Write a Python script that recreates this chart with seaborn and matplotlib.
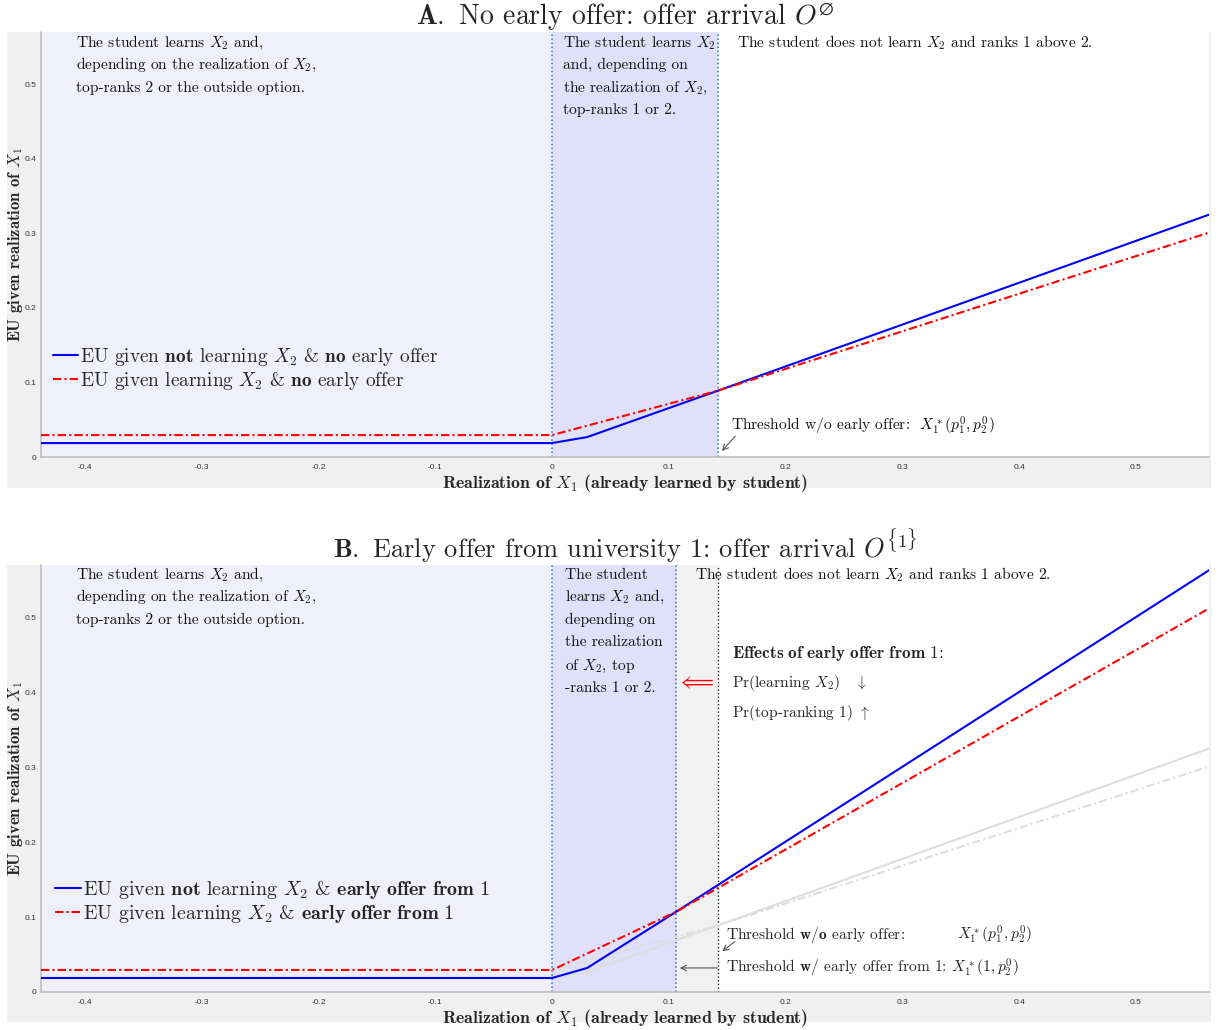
import matplotlib
matplotlib.use("Agg")
import matplotlib.pyplot as plt
from matplotlib.patches import Rectangle
import seaborn as sns

# ---------------- data ----------------
x_min, x_max = -0.4377, 0.5627
y_max = 0.57
thr_no_offer = 0.1422
thr_offer = 0.1062

# Panel A
a_blue_x = [x_min, 0.0, 0.03, 0.1422, x_max]
a_blue_y = [0.0187, 0.0187, 0.0267, 0.089, 0.325]
a_red_x = [x_min, 0.0, 0.1422, x_max]
a_red_y = [0.0294, 0.0294, 0.089, 0.301]

# Panel B
b_blue_x = [x_min, 0.0, 0.03, 0.1062, x_max]
b_blue_y = [0.0187, 0.0187, 0.032, 0.107, 0.563]
b_red_x = [x_min, 0.0, 0.1062, x_max]
b_red_y = [0.0294, 0.0294, 0.107, 0.512]

x_ticks = [-0.4, -0.3, -0.2, -0.1, 0, 0.1, 0.2, 0.3, 0.4, 0.5]
x_ticklabels = ["-0.4", "-0.3", "-0.2", "-0.1", "0", "0.1", "0.2", "0.3", "0.4", "0.5"]
y_ticks = [0, 0.1, 0.2, 0.3, 0.4, 0.5]
y_ticklabels = ["0", "0.1", "0.2", "0.3", "0.4", "0.5"]

left_text = ["The student learns $X_2$ and,",
             "depending on the realization of $X_2$,",
             "top-ranks 2 or the outside option."]
mid_text_a = ["The student learns $X_2$", "and, depending on",
              "the realization of $X_2$,", "top-ranks 1 or 2."]
mid_text_b = ["The student", "learns $X_2$ and,", "depending on",
              "the realization", "of $X_2$, top", "-ranks 1 or 2."]
right_text = "The student does not learn $X_2$ and ranks 1 above 2."

# ---------------- style ----------------
sns.set_style("white")
plt.rcParams["font.family"] = "serif"
plt.rcParams["font.serif"] = ["cmr10"]
plt.rcParams["mathtext.fontset"] = "cm"
plt.rcParams["axes.formatter.use_mathtext"] = True
plt.rcParams["axes.unicode_minus"] = False

BLUE = "#0000FF"
RED = "#FF0000"
GREY_LINE = "#DEDEDE"
VLINE_BLUE = "#1f77c4"
LAV1 = "#F0F0FC"
LAV2 = "#E0E0FA"
GREYBAND = "#F1F1F1"
DASHDOT = (0, (4, 1.5, 1, 1.5))
FS = 11.2

fig = plt.figure(figsize=(12.18, 10.30), dpi=100)
fig.patch.set_facecolor("white")

# grey background boxes
fig.patches.append(Rectangle((7 / 1218, 1 - 488 / 1030), (1211 - 7) / 1218, (488 - 32) / 1030,
                             transform=fig.transFigure, facecolor="#F0F0F0", edgecolor="none", zorder=-10))
fig.patches.append(Rectangle((7 / 1218, 1 - 1022 / 1030), (1211 - 7) / 1218, (1022 - 565) / 1030,
                             transform=fig.transFigure, facecolor="#F0F0F0", edgecolor="none", zorder=-10))

ax_l = 41 / 1218
ax_w = (1209 - 41) / 1218
axA = fig.add_axes([ax_l, 1 - 457 / 1030, ax_w, (457 - 32) / 1030])
axB = fig.add_axes([ax_l, 1 - 992 / 1030, ax_w, (992 - 565) / 1030])


def style_axes(ax):
    ax.set_facecolor("white")
    ax.set_xlim(x_min, x_max)
    ax.set_ylim(0, y_max)
    ax.set_xticks(x_ticks)
    ax.set_xticklabels(x_ticklabels, fontfamily="Liberation Sans", fontsize=6, color="#333333")
    ax.set_yticks(y_ticks)
    ax.set_yticklabels(y_ticklabels, fontfamily="Liberation Sans", fontsize=6, color="#333333")
    ax.tick_params(axis="both", direction="in", length=9, width=1.1, color="#BBBBBB")
    ax.tick_params(axis="x", pad=5)
    ax.tick_params(axis="y", pad=3)
    for s in ["top", "right"]:
        ax.spines[s].set_visible(False)
    for s in ["left", "bottom"]:
        ax.spines[s].set_color("#BBBBBB")
        ax.spines[s].set_linewidth(1.1)
    ax.set_xlabel(r"Realization of $X_1$ (already learned by student)", fontfamily="cmb10",
                  fontsize=12.8, labelpad=1)
    ax.set_ylabel(r"EU given realization of $X_1$", fontfamily="cmb10", fontsize=12, labelpad=0)


def put_lines(ax, x, lines, baselines_px, zero_px):
    for line, b in zip(lines, baselines_px):
        ax.text(x, (zero_px - b) / 748.0, line, fontsize=FS, va="baseline", ha="left", color="#111111")


# ---------------- Panel A ----------------
axA.axvspan(x_min, 0, color=LAV1, lw=0, zorder=0)
axA.axvspan(0, thr_no_offer, color=LAV2, lw=0, zorder=0)
axA.axvline(0, color=VLINE_BLUE, ls=":", lw=1.1, zorder=1)
axA.axvline(thr_no_offer, color=VLINE_BLUE, ls=":", lw=1.1, zorder=1)

sns.lineplot(x=a_blue_x, y=a_blue_y, ax=axA, color=BLUE, lw=1.5, sort=False, zorder=3,
             label=r"EU given $\mathbf{not}$ learning $X_2$ & $\mathbf{no}$ early offer")
sns.lineplot(x=a_red_x, y=a_red_y, ax=axA, color=RED, lw=1.5, linestyle=DASHDOT, sort=False, zorder=4,
             label=r"EU given learning $X_2$ & $\mathbf{no}$ early offer")
style_axes(axA)
axA.legend(loc="upper left", bbox_to_anchor=(0.01, 0.262), frameon=False, fontsize=13.9,
           handlelength=1.3, handletextpad=0.1, labelspacing=0.12, borderpad=0, borderaxespad=0)

put_lines(axA, -0.4077, left_text, [46, 68, 91], 457)
put_lines(axA, 0.0090, mid_text_a, [46, 68, 91, 113], 457)
put_lines(axA, 0.1585, [right_text], [46], 457)
axA.text(0.1533, 0.0414, r"Threshold w/o early offer:  $X_1^*(p_1^0, p_2^0)$", fontsize=FS,
         va="center", ha="left", color="#111111")
axA.annotate("", xy=(0.1439, 0.0053), xytext=(0.1585, 0.0307),
             arrowprops=dict(arrowstyle="->", color="#555555", lw=0.8))

axA.set_title(r"$\mathbf{A.}$ No early offer: offer arrival $O^{\varnothing}$", fontsize=20, pad=5)

# ---------------- Panel B ----------------
axB.axvspan(x_min, 0, color=LAV1, lw=0, zorder=0)
axB.axvspan(0, thr_offer, color=LAV2, lw=0, zorder=0)
axB.axvspan(thr_offer, thr_no_offer, color=GREYBAND, lw=0, zorder=0)
axB.axvline(0, color=VLINE_BLUE, ls=":", lw=1.1, zorder=1)
axB.axvline(thr_offer, color=VLINE_BLUE, ls=":", lw=1.1, zorder=1)
axB.axvline(thr_no_offer, color="#222222", ls=":", lw=1.0, zorder=1)

# grey copies of panel A curves
sns.lineplot(x=a_blue_x, y=a_blue_y, ax=axB, color=GREY_LINE, lw=1.5, sort=False, zorder=2, legend=False)
sns.lineplot(x=a_red_x, y=a_red_y, ax=axB, color=GREY_LINE, lw=1.5, linestyle=DASHDOT, sort=False, zorder=2,
             legend=False)
sns.lineplot(x=b_blue_x, y=b_blue_y, ax=axB, color=BLUE, lw=1.5, sort=False, zorder=3,
             label=r"EU given $\mathbf{not}$ learning $X_2$ & $\mathbf{early\ offer\ from\ 1}$")
sns.lineplot(x=b_red_x, y=b_red_y, ax=axB, color=RED, lw=1.5, linestyle=DASHDOT, sort=False, zorder=4,
             label=r"EU given learning $X_2$ & $\mathbf{early\ offer\ from\ 1}$")
style_axes(axB)
handles, labels = axB.get_legend_handles_labels()
axB.legend(handles[-2:], labels[-2:], loc="upper left", bbox_to_anchor=(0.012, 0.265), frameon=False,
           fontsize=14.4, handlelength=1.3, handletextpad=0.1, labelspacing=0.1, borderpad=0, borderaxespad=0)

put_lines(axB, -0.4077, left_text, [580, 602, 625], 992)
put_lines(axB, 0.0111, mid_text_b, [580, 602, 625, 647, 670, 692], 992)
put_lines(axB, 0.1225, [right_text], [580], 992)

axB.text(0.1542, 0.452, r"$\mathbf{Effects\ of\ early\ offer\ from\ 1}$:", fontsize=12.4, va="center", ha="left")
axB.text(0.1542, 0.412, r"Pr(learning $X_2$)   $\downarrow$", fontsize=FS, va="center", ha="left")
axB.text(0.1542, 0.372, r"Pr(top-ranking 1) $\uparrow$", fontsize=FS, va="center", ha="left")
axB.text(0.1233, 0.412, r"$\Longleftarrow$", fontsize=15, va="center", ha="center", color=RED)

axB.text(0.149, 0.0762, r"Threshold $\mathbf{w/o}$ early offer:", fontsize=FS, va="center", ha="left")
axB.text(0.3469, 0.0762, r"$X_1^*(p_1^0, p_2^0)$", fontsize=FS, va="center", ha="left")
axB.text(0.149, 0.0321, r"Threshold $\mathbf{w/}$ early offer from 1: $X_1^*(1, p_2^0)$", fontsize=FS,
         va="center", ha="left")
axB.annotate("", xy=(0.1439, 0.052), xytext=(0.1585, 0.0695),
             arrowprops=dict(arrowstyle="->", color="#555555", lw=0.8))
axB.annotate("", xy=(0.107, 0.0321), xytext=(0.1439, 0.0321),
             arrowprops=dict(arrowstyle="->", color="#555555", lw=0.8))

axB.set_title(r"$\mathbf{B.}$ Early offer from university 1: offer arrival $O^{\{1\}}$", fontsize=19, pad=5)

fig.savefig("out.png", dpi=100)
